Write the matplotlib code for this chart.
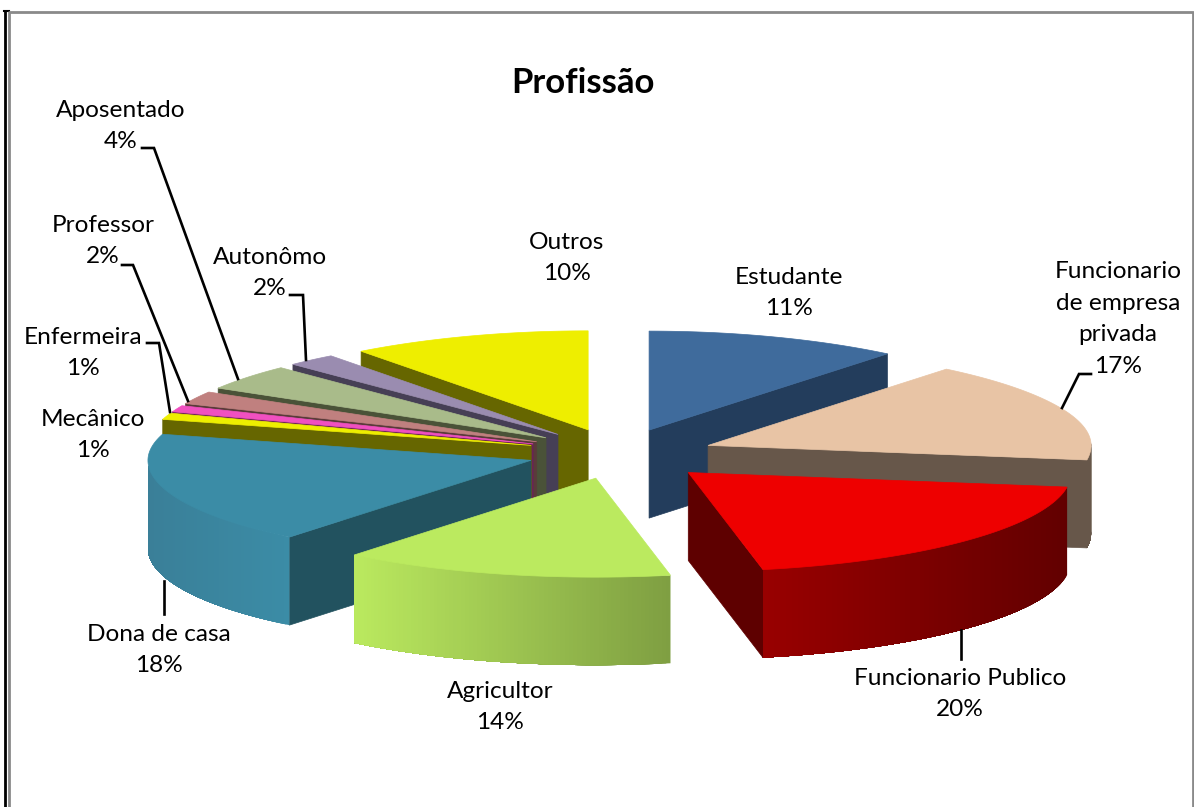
import numpy as np
import matplotlib
matplotlib.use('Agg')
import matplotlib.pyplot as plt
from matplotlib.colors import to_rgb
from matplotlib.patches import Polygon

categorias = ['Estudante', 'Funcionario\nde empresa\nprivada', 'Funcionario Publico', 'Agricultor',
              'Dona de casa', 'Mecânico', 'Enfermeira', 'Professor', 'Aposentado', 'Autonômo', 'Outros']
valores = [11, 17, 20, 14, 18, 1, 1, 2, 4, 2, 10]

cor_topo = ['#3F6B9C', '#E8C4A5', '#EE0000', '#BBEA5F', '#3B8CA6', '#EEEE00',
            '#F050C0', '#C0807F', '#A9BB8A', '#9A8CB0', '#EEEE00']
cor_corte = ['#233D5C', '#67574A', '#5E0000', '#5F7A30', '#22525F', '#666600',
             '#6A2355', '#5A3B3A', '#4A5238', '#463F55', '#666600']
# parede externa: cor a esquerda e a direita do degrade
cor_parede_esq = ['#233D5C', '#67574A', '#990000', '#BBEA5F', '#3A7F98', '#666600',
                  '#6A2355', '#5A3B3A', '#4A5238', '#463F55', '#666600']
cor_parede_dir = ['#233D5C', '#67574A', '#620000', '#7F9F42', '#3B8CA6', '#666600',
                  '#6A2355', '#5A3B3A', '#4A5238', '#463F55', '#666600']

# posicao dos rotulos (centro do texto, em pixels)
pos_rotulos = [(789, 293), (1118, 319), (960, 694), (500, 707), (159, 650), (93, 435),
               (83, 353), (103, 241), (121, 126), (270, 273), (567, 258)]
guias = [[(1091, 374), (1079, 374), (1062, 408)],
         [(961, 630), (961, 659)],
         [(164, 581), (164, 614)],
         [(147, 343), (159, 343), (170, 412)],
         [(122, 265), (133, 265), (188, 401)],
         [(142, 148), (154, 148), (238, 379)],
         [(290, 295), (303, 295), (306, 360)]]

CX, CY = 621, 454      # centro da pizza
RX, RY = 383, 99       # raios da elipse
EX, EY = 94, 25.4      # explosao das fatias
ALTURA = 88


def ajusta(t):
    # a perspectiva do Excel puxa as fatias da frente para a direita
    if t > 40:
        return t - 4.2 * np.sin((t - 40) / 320 * np.pi)
    return t


def ponto(t, centro):
    a = np.radians(ajusta(t))
    rx = RX * (1 - 0.04 * max(np.cos(a), 0) ** 2)  # o fundo fica mais estreito
    return centro[0] + rx * np.sin(a), centro[1] - RY * np.cos(a)


def face(ax, p, q, cor, z):
    ax.add_patch(Polygon([p, q, (q[0], q[1] + ALTURA), (p[0], p[1] + ALTURA)],
                         closed=True, facecolor=cor, edgecolor=cor, linewidth=0.5, zorder=z))


fig = plt.figure(figsize=(11.94, 8.07), dpi=100)
ax = fig.add_axes([0, 0, 1, 1])
ax.set_xlim(0, 1194)
ax.set_ylim(807, 0)
ax.axis('off')

# moldura
ax.plot([5, 5], [807, 10.5], color='black', lw=2, zorder=1)
ax.plot([4, 9], [11, 11], color='black', lw=1.5, zorder=1)
ax.plot([9, 9, 1193, 1193], [807, 11.5, 11.5, 807], color='#8A8A8A', lw=2, zorder=1)

ang = np.cumsum([0] + valores) * 360 / sum(valores)
medio = (ang[:-1] + ang[1:]) / 2

# desenha de tras para frente
ordem = np.argsort(-np.cos(np.radians(medio)))
z = 2
for i in ordem:
    ini, fim = ang[i], ang[i + 1]
    m = np.radians(medio[i])
    centro = (CX + EX * np.sin(m) - 4 * np.cos(m), CY - EY * np.cos(m))
    arco = [ponto(t, centro) for t in np.linspace(ini, fim, 60)]

    # cortes retos: so aparecem se a normal aponta para baixo na tela
    p_ini, p_fim = arco[0], arco[-1]
    if p_ini[0] < centro[0]:
        face(ax, centro, p_ini, cor_corte[i], z)
    if p_fim[0] > centro[0]:
        face(ax, centro, p_fim, cor_corte[i], z)
    z += 1

    # parede externa com degrade, so a parte voltada para frente
    ts = np.linspace(max(ini, 90), min(fim, 270), 80)
    if ts[-1] > ts[0]:
        pts = [ponto(t, centro) for t in ts]
        x0 = min(p[0] for p in pts)
        x1 = max(p[0] for p in pts)
        c0 = np.array(to_rgb(cor_parede_esq[i]))
        c1 = np.array(to_rgb(cor_parede_dir[i]))
        # cada faixa cobre o resto da parede, assim nao aparecem emendas
        for k in range(len(pts) - 1):
            f = (pts[k][0] - x0) / (x1 - x0)
            resto = pts[k:]
            contorno = resto + [(x, y + ALTURA) for x, y in reversed(resto)]
            ax.add_patch(Polygon(contorno, closed=True, facecolor=tuple(c0 + (c1 - c0) * f),
                                 edgecolor='none', zorder=z))
    z += 1

    ax.add_patch(Polygon([centro] + arco, closed=True, facecolor=cor_topo[i],
                         edgecolor=cor_topo[i], linewidth=0.5, zorder=z))
    z += 1

for g in guias:
    xs, ys = zip(*g)
    ax.plot(xs, ys, color='black', lw=1.9, zorder=z, solid_joinstyle='miter')

for nome, v, (x, y) in zip(categorias, valores, pos_rotulos):
    ax.text(x, y, f'{nome}\n{v}%', ha='center', va='center', fontsize=17.6, family='Lato',
            color='black', linespacing=1.62, zorder=z + 1)

ax.text(583, 83, 'Profissão', ha='center', va='center', fontsize=25, family='Lato',
        fontweight='bold', color='black', zorder=z + 1)

fig.savefig('out.png', dpi=100)
